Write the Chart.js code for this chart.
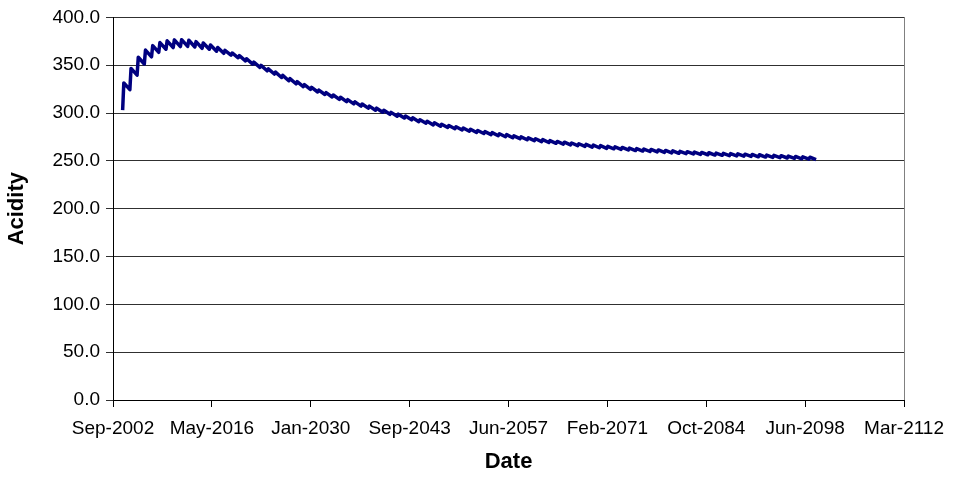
<!DOCTYPE html>
<html>
<head>
<meta charset="utf-8">
<script src="https://cdn.jsdelivr.net/npm/chart.js@4.4.1/dist/chart.umd.min.js"></script>
<style>
  html, body { margin: 0; padding: 0; background: #fff; }
  #wrap { width: 954px; height: 485px; }
</style>
</head>
<body>
<div id="wrap"><canvas id="acidityChart" width="954" height="485"></canvas></div>
<script>
// first simulated year and the level it starts from
var firstYear = 2004;
var startValue = 303.0;

// yearly high right after the spring jump, 2004..2099
var peaks = [
  331.5, 346.7, 358.3, 365.8, 370.5, 373.7, 375.5, 376.5, 376.7, 376.1,
  374.7, 373.3, 371.1, 368.6, 365.5, 362.8, 360.0, 356.8, 353.2, 349.8,
  346.2, 342.8, 339.4, 336.0, 332.8, 329.7, 326.8, 324.0, 321.4, 318.9,
  316.5, 314.0, 311.7, 309.5, 307.2, 305.1, 302.9, 300.7, 298.8, 296.9,
  295.0, 293.0, 291.4, 289.8, 288.3, 287.0, 285.7, 284.4, 283.1, 281.8,
  280.6, 279.5, 278.4, 277.4, 276.2, 275.1, 274.1, 273.1, 272.2, 271.2,
  270.3, 269.5, 268.7, 267.9, 267.2, 266.5, 265.9, 265.2, 264.6, 264.0,
  263.4, 262.9, 262.4, 261.9, 261.4, 260.9, 260.5, 260.0, 259.6, 259.2,
  258.8, 258.5, 258.2, 257.9, 257.6, 257.3, 257.0, 256.7, 256.4, 256.1,
  255.8, 255.4, 255.0, 254.6, 254.2, 253.8
];

// level each year has fallen to just before the next jump, 2004..2099
var troughs = [
  324.5, 339.7, 351.3, 358.8, 363.5, 366.7, 368.5, 369.5, 369.7, 369.1,
  367.7, 366.7, 364.7, 362.4, 360.5, 357.8, 354.6, 351.2, 347.8, 344.2,
  340.8, 337.2, 333.8, 330.6, 327.6, 324.7, 322.0, 319.4, 316.8, 314.3,
  311.9, 309.6, 307.3, 305.1, 303.0, 300.9, 298.7, 296.7, 294.8, 292.9,
  291.0, 289.4, 287.6, 286.2, 284.9, 283.6, 282.3, 281.0, 279.7, 278.6,
  277.4, 276.3, 275.2, 274.2, 273.2, 272.1, 271.1, 270.1, 269.2, 268.4,
  267.5, 266.7, 265.9, 265.1, 264.4, 263.7, 263.1, 262.6, 262.0, 261.4,
  260.8, 260.3, 259.8, 259.3, 258.8, 258.3, 257.9, 257.6, 257.2, 256.8,
  256.4, 256.1, 255.8, 255.5, 255.2, 254.9, 254.6, 254.3, 254.0, 253.7,
  253.4, 253.0, 252.6, 252.2, 251.8, 251.4
];

// date axis runs on spreadsheet day numbers
var xMin = 37500, xMax = 77500, xStep = 5000;
var tickLabels = ['Sep-2002', 'May-2016', 'Jan-2030', 'Sep-2043', 'Jun-2057',
                  'Feb-2071', 'Oct-2084', 'Jun-2098', 'Mar-2112'];

function dayNumber(year, month) {
  return (Date.UTC(year, month, 1) - Date.UTC(1899, 11, 30)) / 86400000;
}

// quick rise in early spring, then a slow fall until the new year
var points = [{ x: dayNumber(firstYear, 0), y: startValue }];
for (var i = 0; i < peaks.length; i++) {
  var yr = firstYear + i;
  points.push({ x: dayNumber(yr, 2), y: peaks[i] });
  points.push({ x: dayNumber(yr + 1, 0), y: troughs[i] });
}

var fontFamily = '"Liberation Sans", Arial, Helvetica, sans-serif';

// grey frame round the plot area
var plotFrame = {
  id: 'plotFrame',
  beforeDraw: function (chart) {
    var a = chart.chartArea, ctx = chart.ctx;
    ctx.save();
    ctx.strokeStyle = '#808080';
    ctx.lineWidth = 1;
    ctx.strokeRect(Math.round(a.left) + 0.5, Math.round(a.top) + 0.5,
                   Math.round(a.right - a.left), Math.round(a.bottom - a.top));
    ctx.restore();
  }
};

new Chart('acidityChart', {
  type: 'line',
  data: {
    datasets: [{
      label: 'Acidity',
      data: points,
      borderColor: '#000080',
      borderWidth: 3.5,
      borderJoinStyle: 'round',
      pointRadius: 0,
      tension: 0,
      fill: false
    }]
  },
  options: {
    responsive: false,
    animation: false,
    layout: { padding: { left: 0, right: 46, top: 16, bottom: 0 } },
    plugins: {
      legend: { display: false },
      tooltip: { enabled: false }
    },
    scales: {
      x: {
        type: 'linear',
        min: xMin,
        max: xMax,
        afterFit: function (scale) { scale.height = 85; },
        grid: { drawOnChartArea: false, drawTicks: true, tickLength: 7, color: '#000' },
        border: { color: '#000' },
        ticks: {
          stepSize: xStep,
          autoSkip: false,
          maxRotation: 0,
          padding: 10,
          color: '#000',
          font: { family: fontFamily, size: 19 },
          callback: function (v, idx) { return tickLabels[idx]; }
        },
        title: {
          display: true,
          text: 'Date',
          color: '#000',
          font: { family: fontFamily, size: 22, weight: 'bold', lineHeight: 1.2 },
          padding: { top: 0, bottom: 10 }
        }
      },
      y: {
        min: 0,
        max: 400,
        afterFit: function (scale) { scale.width = 113; },
        grid: { color: '#303030', tickLength: 7 },
        border: { color: '#000' },
        ticks: {
          stepSize: 50,
          padding: 6,
          color: '#000',
          font: { family: fontFamily, size: 19 },
          callback: function (v) { return v.toFixed(1); }
        },
        title: {
          display: true,
          text: 'Acidity',
          color: '#000',
          font: { family: fontFamily, size: 22, weight: 'bold', lineHeight: 1.2 },
          padding: { top: 4, bottom: 0 }
        }
      }
    }
  },
  plugins: [plotFrame]
});
</script>
</body>
</html>
